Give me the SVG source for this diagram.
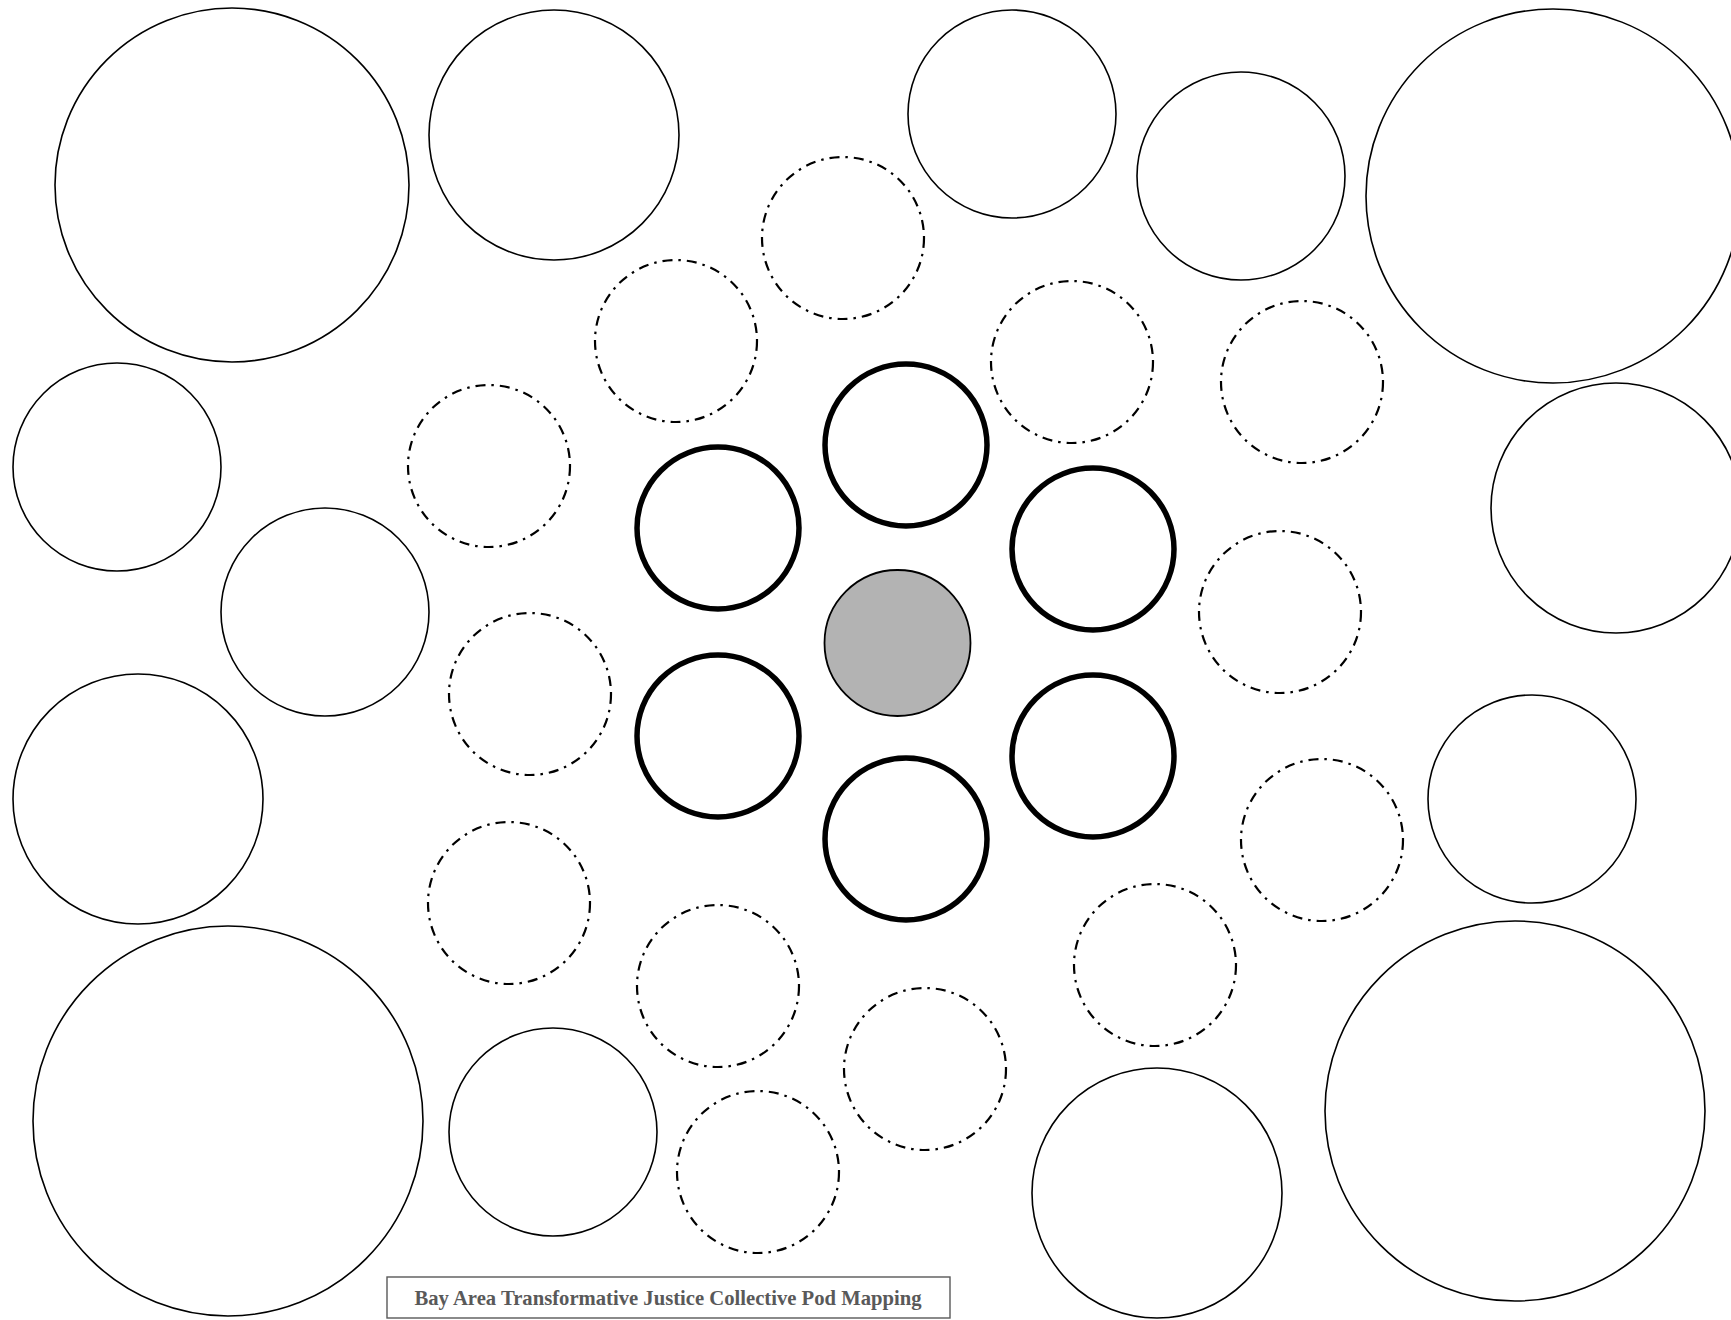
<svg xmlns="http://www.w3.org/2000/svg" width="1731" height="1320" viewBox="0 0 1731 1320">
<style>
.outer{fill:#fff;stroke:#000;stroke-width:1.6}
.dash{fill:#fff;stroke:#000;stroke-width:2.2;stroke-dasharray:10 6 2.5 6}
.thick{fill:#fff;stroke:#000;stroke-width:5.5}
.center{fill:#b3b3b3;stroke:#000;stroke-width:1.8}
.cap{fill:#fff;stroke:#595959;stroke-width:1.4}
.captxt{font-family:"Liberation Serif","DejaVu Serif",serif;font-weight:bold;font-size:21px;fill:#595959}
</style>
<rect width="1731" height="1320" fill="#fff"/>
<g id="outer-circles">
<g id="o1"><circle class="outer" cx="232" cy="185" r="177"/></g>
<g id="o2"><circle class="outer" cx="554" cy="135" r="125"/></g>
<g id="o3"><circle class="outer" cx="1012" cy="114" r="104"/></g>
<g id="o4"><circle class="outer" cx="1241" cy="176" r="104"/></g>
<g id="o5"><circle class="outer" cx="1553" cy="196" r="187"/></g>
<g id="o6"><circle class="outer" cx="1616" cy="508" r="125"/></g>
<g id="o7"><circle class="outer" cx="117" cy="467" r="104"/></g>
<g id="o8"><circle class="outer" cx="325" cy="612" r="104"/></g>
<g id="o9"><circle class="outer" cx="138" cy="799" r="125"/></g>
<g id="o10"><circle class="outer" cx="228" cy="1121" r="195"/></g>
<g id="o11"><circle class="outer" cx="553" cy="1132" r="104"/></g>
<g id="o12"><circle class="outer" cx="1157" cy="1193" r="125"/></g>
<g id="o13"><circle class="outer" cx="1515" cy="1111" r="190"/></g>
<g id="o14"><circle class="outer" cx="1532" cy="799" r="104"/></g>
</g>
<g id="dashed-circles">
<g id="d1"><circle class="dash" cx="843" cy="238" r="81"/></g>
<g id="d2"><circle class="dash" cx="676" cy="341" r="81"/></g>
<g id="d3"><circle class="dash" cx="489" cy="466" r="81"/></g>
<g id="d4"><circle class="dash" cx="1072" cy="362" r="81"/></g>
<g id="d5"><circle class="dash" cx="1302" cy="382" r="81"/></g>
<g id="d6"><circle class="dash" cx="1280" cy="612" r="81"/></g>
<g id="d7"><circle class="dash" cx="530" cy="694" r="81"/></g>
<g id="d8"><circle class="dash" cx="509" cy="903" r="81"/></g>
<g id="d9"><circle class="dash" cx="718" cy="986" r="81"/></g>
<g id="d10"><circle class="dash" cx="1155" cy="965" r="81"/></g>
<g id="d11"><circle class="dash" cx="1322" cy="840" r="81"/></g>
<g id="d12"><circle class="dash" cx="925" cy="1069" r="81"/></g>
<g id="d13"><circle class="dash" cx="758" cy="1172" r="81"/></g>
</g>
<g id="inner-circles">
<g id="t1"><circle class="thick" cx="906" cy="445" r="81"/></g>
<g id="t2"><circle class="thick" cx="718" cy="528" r="81"/></g>
<g id="t3"><circle class="thick" cx="1093" cy="549" r="81"/></g>
<g id="t4"><circle class="thick" cx="718" cy="736" r="81"/></g>
<g id="t5"><circle class="thick" cx="1093" cy="756" r="81"/></g>
<g id="t6"><circle class="thick" cx="906" cy="839" r="81"/></g>
</g>
<g id="center"><circle class="center" cx="897.5" cy="643" r="73"/></g>
<g id="connectors"></g>
<g id="caption">
<rect class="cap" x="387" y="1277" width="563" height="41"/>
<text class="captxt" x="668" y="1305" text-anchor="middle" textLength="507" lengthAdjust="spacingAndGlyphs">Bay Area Transformative Justice Collective Pod Mapping</text>
</g>
</svg>
